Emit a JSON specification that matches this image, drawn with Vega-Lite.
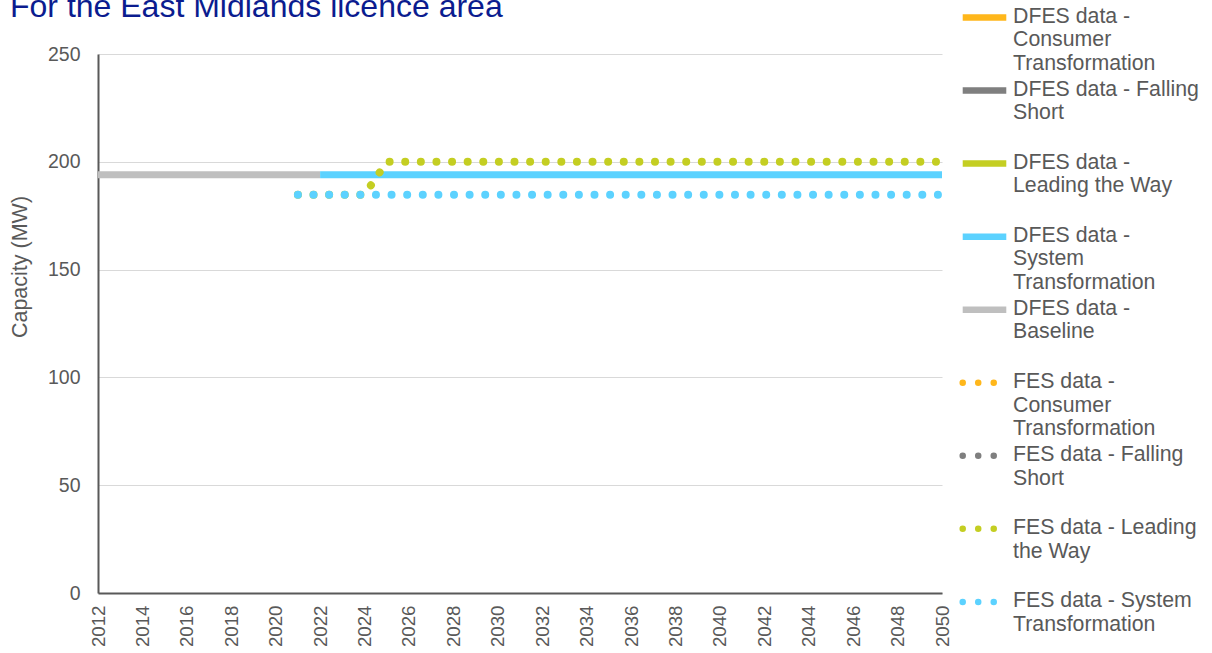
{
  "$schema": "https://vega.github.io/schema/vega-lite/v6.json",
  "width": 844,
  "height": 539,
  "autosize": {"type": "none"},
  "padding": {"left": 98, "top": 54, "right": 270, "bottom": 60},
  "background": "white",
  "config": {
    "view": {"stroke": null},
    "font": "Liberation Sans",
    "axis": {"labelFont": "Liberation Sans", "titleFont": "Liberation Sans"},
    "legend": {"labelFont": "Liberation Sans"}
  },
  "title": {
    "text": "For the East Midlands licence area",
    "anchor": "start",
    "frame": "group",
    "fontSize": 32,
    "fontWeight": "normal",
    "color": "#0B1C8F",
    "dx": -88,
    "dy": 31,
    "baseline": "alphabetic",
    "offset": -12
  },
  "data": {
    "values": [
      {"series": "DFES data - Baseline", "year": 2012, "value": 194},
      {"series": "DFES data - Baseline", "year": 2013, "value": 194},
      {"series": "DFES data - Baseline", "year": 2014, "value": 194},
      {"series": "DFES data - Baseline", "year": 2015, "value": 194},
      {"series": "DFES data - Baseline", "year": 2016, "value": 194},
      {"series": "DFES data - Baseline", "year": 2017, "value": 194},
      {"series": "DFES data - Baseline", "year": 2018, "value": 194},
      {"series": "DFES data - Baseline", "year": 2019, "value": 194},
      {"series": "DFES data - Baseline", "year": 2020, "value": 194},
      {"series": "DFES data - Baseline", "year": 2021, "value": 194},
      {"series": "DFES data - Baseline", "year": 2022, "value": 194},
      {"series": "DFES data - System Transformation", "year": 2022, "value": 194},
      {"series": "DFES data - System Transformation", "year": 2023, "value": 194},
      {"series": "DFES data - System Transformation", "year": 2024, "value": 194},
      {"series": "DFES data - System Transformation", "year": 2025, "value": 194},
      {"series": "DFES data - System Transformation", "year": 2026, "value": 194},
      {"series": "DFES data - System Transformation", "year": 2027, "value": 194},
      {"series": "DFES data - System Transformation", "year": 2028, "value": 194},
      {"series": "DFES data - System Transformation", "year": 2029, "value": 194},
      {"series": "DFES data - System Transformation", "year": 2030, "value": 194},
      {"series": "DFES data - System Transformation", "year": 2031, "value": 194},
      {"series": "DFES data - System Transformation", "year": 2032, "value": 194},
      {"series": "DFES data - System Transformation", "year": 2033, "value": 194},
      {"series": "DFES data - System Transformation", "year": 2034, "value": 194},
      {"series": "DFES data - System Transformation", "year": 2035, "value": 194},
      {"series": "DFES data - System Transformation", "year": 2036, "value": 194},
      {"series": "DFES data - System Transformation", "year": 2037, "value": 194},
      {"series": "DFES data - System Transformation", "year": 2038, "value": 194},
      {"series": "DFES data - System Transformation", "year": 2039, "value": 194},
      {"series": "DFES data - System Transformation", "year": 2040, "value": 194},
      {"series": "DFES data - System Transformation", "year": 2041, "value": 194},
      {"series": "DFES data - System Transformation", "year": 2042, "value": 194},
      {"series": "DFES data - System Transformation", "year": 2043, "value": 194},
      {"series": "DFES data - System Transformation", "year": 2044, "value": 194},
      {"series": "DFES data - System Transformation", "year": 2045, "value": 194},
      {"series": "DFES data - System Transformation", "year": 2046, "value": 194},
      {"series": "DFES data - System Transformation", "year": 2047, "value": 194},
      {"series": "DFES data - System Transformation", "year": 2048, "value": 194},
      {"series": "DFES data - System Transformation", "year": 2049, "value": 194},
      {"series": "DFES data - System Transformation", "year": 2050, "value": 194},
      {"series": "FES data - Leading the Way", "year": 2021, "value": 184.7},
      {"series": "FES data - Leading the Way", "year": 2022, "value": 184.7},
      {"series": "FES data - Leading the Way", "year": 2023, "value": 184.7},
      {"series": "FES data - Leading the Way", "year": 2024, "value": 184.7},
      {"series": "FES data - Leading the Way", "year": 2025, "value": 200},
      {"series": "FES data - Leading the Way", "year": 2026, "value": 200},
      {"series": "FES data - Leading the Way", "year": 2027, "value": 200},
      {"series": "FES data - Leading the Way", "year": 2028, "value": 200},
      {"series": "FES data - Leading the Way", "year": 2029, "value": 200},
      {"series": "FES data - Leading the Way", "year": 2030, "value": 200},
      {"series": "FES data - Leading the Way", "year": 2031, "value": 200},
      {"series": "FES data - Leading the Way", "year": 2032, "value": 200},
      {"series": "FES data - Leading the Way", "year": 2033, "value": 200},
      {"series": "FES data - Leading the Way", "year": 2034, "value": 200},
      {"series": "FES data - Leading the Way", "year": 2035, "value": 200},
      {"series": "FES data - Leading the Way", "year": 2036, "value": 200},
      {"series": "FES data - Leading the Way", "year": 2037, "value": 200},
      {"series": "FES data - Leading the Way", "year": 2038, "value": 200},
      {"series": "FES data - Leading the Way", "year": 2039, "value": 200},
      {"series": "FES data - Leading the Way", "year": 2040, "value": 200},
      {"series": "FES data - Leading the Way", "year": 2041, "value": 200},
      {"series": "FES data - Leading the Way", "year": 2042, "value": 200},
      {"series": "FES data - Leading the Way", "year": 2043, "value": 200},
      {"series": "FES data - Leading the Way", "year": 2044, "value": 200},
      {"series": "FES data - Leading the Way", "year": 2045, "value": 200},
      {"series": "FES data - Leading the Way", "year": 2046, "value": 200},
      {"series": "FES data - Leading the Way", "year": 2047, "value": 200},
      {"series": "FES data - Leading the Way", "year": 2048, "value": 200},
      {"series": "FES data - Leading the Way", "year": 2049, "value": 200},
      {"series": "FES data - Leading the Way", "year": 2050, "value": 200},
      {"series": "FES data - System Transformation", "year": 2021, "value": 184.7},
      {"series": "FES data - System Transformation", "year": 2022, "value": 184.7},
      {"series": "FES data - System Transformation", "year": 2023, "value": 184.7},
      {"series": "FES data - System Transformation", "year": 2024, "value": 184.7},
      {"series": "FES data - System Transformation", "year": 2025, "value": 184.7},
      {"series": "FES data - System Transformation", "year": 2026, "value": 184.7},
      {"series": "FES data - System Transformation", "year": 2027, "value": 184.7},
      {"series": "FES data - System Transformation", "year": 2028, "value": 184.7},
      {"series": "FES data - System Transformation", "year": 2029, "value": 184.7},
      {"series": "FES data - System Transformation", "year": 2030, "value": 184.7},
      {"series": "FES data - System Transformation", "year": 2031, "value": 184.7},
      {"series": "FES data - System Transformation", "year": 2032, "value": 184.7},
      {"series": "FES data - System Transformation", "year": 2033, "value": 184.7},
      {"series": "FES data - System Transformation", "year": 2034, "value": 184.7},
      {"series": "FES data - System Transformation", "year": 2035, "value": 184.7},
      {"series": "FES data - System Transformation", "year": 2036, "value": 184.7},
      {"series": "FES data - System Transformation", "year": 2037, "value": 184.7},
      {"series": "FES data - System Transformation", "year": 2038, "value": 184.7},
      {"series": "FES data - System Transformation", "year": 2039, "value": 184.7},
      {"series": "FES data - System Transformation", "year": 2040, "value": 184.7},
      {"series": "FES data - System Transformation", "year": 2041, "value": 184.7},
      {"series": "FES data - System Transformation", "year": 2042, "value": 184.7},
      {"series": "FES data - System Transformation", "year": 2043, "value": 184.7},
      {"series": "FES data - System Transformation", "year": 2044, "value": 184.7},
      {"series": "FES data - System Transformation", "year": 2045, "value": 184.7},
      {"series": "FES data - System Transformation", "year": 2046, "value": 184.7},
      {"series": "FES data - System Transformation", "year": 2047, "value": 184.7},
      {"series": "FES data - System Transformation", "year": 2048, "value": 184.7},
      {"series": "FES data - System Transformation", "year": 2049, "value": 184.7},
      {"series": "FES data - System Transformation", "year": 2050, "value": 184.7}
    ]
  },
  "encoding": {
    "x": {
      "field": "year",
      "type": "quantitative",
      "scale": {"domain": [2012, 2050], "nice": false, "zero": false},
      "axis": {
        "title": null,
        "values": [2012, 2014, 2016, 2018, 2020, 2022, 2024, 2026, 2028, 2030, 2032, 2034, 2036, 2038, 2040, 2042, 2044, 2046, 2048, 2050],
        "format": "d",
        "labelAngle": -90,
        "labelFontSize": 18.7,
        "labelColor": "#595959",
        "labelPadding": 12,
        "ticks": false,
        "grid": false,
        "domainColor": "#595959",
        "domainWidth": 2,
        "labelFlush": false,
        "labelOverlap": false
      }
    },
    "y": {
      "field": "value",
      "type": "quantitative",
      "scale": {"domain": [0, 250], "nice": false},
      "axis": {
        "title": "Capacity (MW)",
        "titleFontSize": 21.5,
        "titleFontWeight": "normal",
        "titleColor": "#595959",
        "titleX": -89,
        "titleY": 212.5,
        "titleAngle": -90,
        "titleBaseline": "top",
        "titleAlign": "center",
        "values": [0, 50, 100, 150, 200, 250],
        "labelFontSize": 19.5,
        "labelColor": "#595959",
        "labelPadding": 18,
        "ticks": false,
        "grid": true,
        "gridColor": "#D9D9D9",
        "gridWidth": 1,
        "domainColor": "#595959",
        "domainWidth": 2
      }
    },
    "color": {
      "field": "series",
      "type": "nominal",
      "scale": {
        "domain": [
          "DFES data - Consumer Transformation",
          "DFES data - Falling Short",
          "DFES data - Leading the Way",
          "DFES data - System Transformation",
          "DFES data - Baseline",
          "FES data - Consumer Transformation",
          "FES data - Falling Short",
          "FES data - Leading the Way",
          "FES data - System Transformation"
        ],
        "range": ["#FFB71B", "#7F7F7F", "#C4CE22", "#5CD2FF", "#BFBFBF", "#FFB71B", "#7F7F7F", "#C4CE22", "#5CD2FF"]
      },
      "legend": {
        "title": null,
        "orient": "none",
        "legendX": 861,
        "legendY": -48,
        "padding": 0,
        "symbolType": "stroke",
        "symbolSize": 1900,
        "symbolStrokeWidth": 6.5,
        "labelFontSize": 21.3,
        "labelColor": "#595959",
        "labelOffset": 3,
        "labelLimit": 250,
        "labelLineHeight": 24.35,
        "labelBaseline": "top",
        "rowPadding": 3.05,
        "gridAlign": "all",
        "labelExpr": "datum.label == 'DFES data - Consumer Transformation' ? ['DFES data -', 'Consumer', 'Transformation'] : datum.label == 'DFES data - Falling Short' ? ['DFES data - Falling', 'Short'] : datum.label == 'DFES data - Leading the Way' ? ['DFES data -', 'Leading the Way'] : datum.label == 'DFES data - System Transformation' ? ['DFES data -', 'System', 'Transformation'] : datum.label == 'DFES data - Baseline' ? ['DFES data -', 'Baseline'] : datum.label == 'FES data - Consumer Transformation' ? ['FES data -', 'Consumer', 'Transformation'] : datum.label == 'FES data - Falling Short' ? ['FES data - Falling', 'Short'] : datum.label == 'FES data - Leading the Way' ? ['FES data - Leading', 'the Way'] : ['FES data - System', 'Transformation']",
        "encode": {
          "symbols": {
            "update": {
              "y": {"value": 11.5},
              "strokeDash": {"signal": "indexof(datum.value, 'FES data') == 0 ? [0.01, 15.5] : [1, 0]"},
              "strokeCap": {"signal": "indexof(datum.value, 'FES data') == 0 ? 'round' : 'butt'"}
            }
          },
          "labels": {
            "update": {
              "y": {"value": 0}
            }
          }
        }
      }
    }
  },
  "layer": [
    {
      "transform": [{"filter": "indexof(datum.series, 'DFES') == 0"}],
      "mark": {"type": "line", "strokeWidth": 7, "strokeCap": "butt"}
    },
    {
      "transform": [{"filter": "indexof(datum.series, 'FES') == 0"}],
      "mark": {"type": "line", "strokeWidth": 8, "strokeCap": "round", "strokeDash": [0.01, 15.6]}
    }
  ]
}
